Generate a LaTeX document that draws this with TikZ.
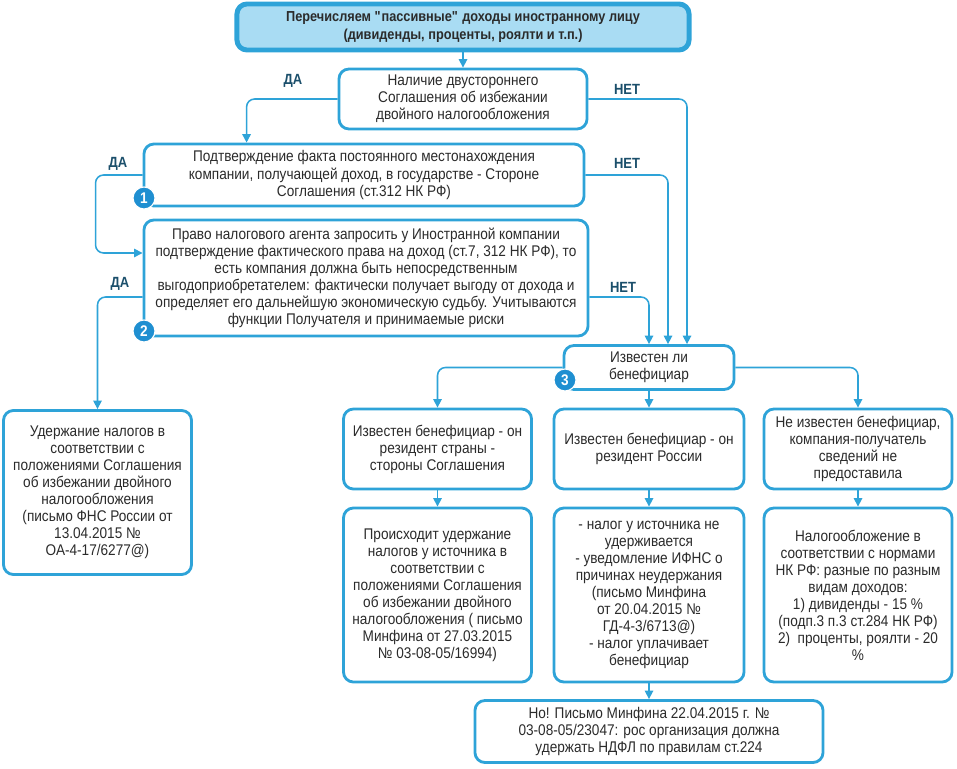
\documentclass[tikz,border=0pt]{standalone}
\usepackage{fontspec}
\setmainfont{Liberation Sans}[FakeStretch=0.88]
\usetikzlibrary{arrows.meta}
\definecolor{rim}{HTML}{2EA3D8}
\definecolor{topfill}{HTML}{A9DCF3}
\definecolor{badgefill}{HTML}{1F8FD1}
\definecolor{txt}{HTML}{2B2B2B}
\definecolor{lbl}{HTML}{1B4F6B}
\tikzset{
  box/.style={draw=rim, line width=2pt, rounded corners=0.25cm, fill=white, align=center,
    text=txt, font=\fontsize{11}{12.1}\selectfont, inner sep=2pt},
  topbox/.style={box, fill=topfill, line width=3.5pt, font=\fontsize{10.3}{12.5}\selectfont\bfseries},
  badge/.style={circle, fill=badgefill, draw=white, line width=0.8pt, text=white,
    font=\fontsize{11}{11}\selectfont\bfseries, minimum size=0.55cm, inner sep=0pt},
  arr/.style={draw=rim, line width=1.1pt, rounded corners=0.2cm, -{Triangle[width=6pt,length=6pt]}},
  yesno/.style={text=lbl, font=\fontsize{10.5}{12}\selectfont\bfseries}
}
\begin{document}
\begin{tikzpicture}[x=0.025cm,y=-0.025cm]
\useasboundingbox (0,0) rectangle (957,768);

% top and questions
\node[topbox, minimum width=11.3cm, minimum height=1.15cm] (top) at (463,27)
  {Перечисляем \textquotedbl пассивные\textquotedbl{} доходы иностранному лицу\\(дивиденды, проценты, роялти и т.п.)};
\node[box, minimum width=6.2cm, minimum height=1.5cm] (q0) at (463,99)
  {Наличие двустороннего\\Соглашения об избежании\\двойного налогообложения};
\node[box, minimum width=11.0cm, minimum height=1.55cm] (b1) at (364,175)
  {Подтверждение факта постоянного местонахождения\\компании, получающей доход, в государстве - Стороне\\Соглашения (ст.312 НК РФ)};
\node[box, minimum width=11.1cm, minimum height=2.9cm] (b2) at (366,278)
  {Право налогового агента запросить у Иностранной компании\\подтверждение фактического права на доход (ст.7, 312 НК РФ), то\\есть компания должна быть непосредственным\\выгодоприобретателем: фактически получает выгоду от дохода и\\определяет его дальнейшую экономическую судьбу. Учитываются\\функции Получателя и принимаемые риски};
\node[box, minimum width=4.25cm, minimum height=1.1cm] (q3) at (649,367.5)
  {Известен ли\\бенефициар};

% results
\node[box, minimum width=4.7cm, minimum height=4.1cm] (left) at (97.5,492.5)
  {Удержание налогов в\\соответствии с\\положениями Соглашения\\об избежании двойного\\налогообложения\\(письмо ФНС России от\\13.04.2015 №\\ОА-4-17/6277@)};
\node[box, minimum width=4.7cm, minimum height=2.0cm] (resA) at (437.5,449)
  {Известен бенефициар - он\\резидент страны -\\стороны Соглашения};
\node[box, minimum width=4.75cm, minimum height=2.0cm] (resB) at (649,449)
  {Известен бенефициар - он\\резидент России};
\node[box, minimum width=4.7cm, minimum height=2.0cm] (resC) at (858,449)
  {Не известен бенефициар,\\компания-получатель\\сведений не\\предоставила};
\node[box, minimum width=4.7cm, minimum height=4.35cm] (taxA) at (437.5,595)
  {Происходит удержание\\налогов у источника в\\соответствии с\\положениями Соглашения\\об избежании двойного\\налогообложения ( письмо\\Минфина от 27.03.2015\\№ 03-08-05/16994)};
\node[box, minimum width=4.75cm, minimum height=4.35cm] (taxB) at (649,595)
  {- налог у источника не\\удерживается\\- уведомление ИФНС о\\причинах неудержания\\(письмо Минфина\\от 20.04.2015 №\\ГД-4-3/6713@)\\- налог уплачивает\\бенефициар};
\node[box, minimum width=4.7cm, minimum height=4.35cm] (taxC) at (858,595)
  {Налогообложение в\\соответствии с нормами\\НК РФ: разные по разным\\видам доходов:\\1) дивиденды - 15 \%\\(подп.3 п.3 ст.284 НК РФ)\\2)~~проценты, роялти - 20\\\%};
\node[box, minimum width=8.7cm, minimum height=1.55cm] (final) at (649,731.5)
  {Но! Письмо Минфина 22.04.2015 г. №\\03-08-05/23047: рос организация должна\\удержать НДФЛ по правилам ст.224};

% connectors
\draw[arr] (top.south) -- (q0.north);
\draw[arr] (q0.west) -| ([xshift=2.6cm]b1.north west);
\draw[arr] (q0.east) -| ([xshift=0.95cm]q3.north);
\draw[arr] (b1.west) -- ++(-47,0) |- ([yshift=0.625cm]b2.west);
\draw[arr] (b1.east) -| ([xshift=0.475cm]q3.north);
\draw[arr] ([yshift=-0.475cm]b2.west) -| (left.north);
\draw[arr] ([yshift=-0.475cm]b2.east) -| (q3.north);
\draw[arr] (q3.west) -| (resA.north);
\draw[arr] (q3.east) -| (resC.north);
\draw[arr] (q3.south) -- (resB.north);
\draw[arr] (resA.south) -- (taxA.north);
\draw[arr] (resB.south) -- (taxB.north);
\draw[arr] (resC.south) -- (taxC.north);
\draw[arr] (taxB.south) -- (final.north);

% labels
\node[yesno] (da0) at (293,81) {ДА};
\node[yesno] (net0) at (627,89) {НЕТ};
\node[yesno] (da1) at (118,164) {ДА};
\node[yesno] (net1) at (627,163) {НЕТ};
\node[yesno] (da2) at (120,284) {ДА};
\node[yesno] (net2) at (623,287) {НЕТ};

% badges
\node[badge] (n1) at (144,198) {1};
\node[badge] (n2) at (144,331) {2};
\node[badge] (n3) at (565,380) {3};
\end{tikzpicture}
\end{document}
